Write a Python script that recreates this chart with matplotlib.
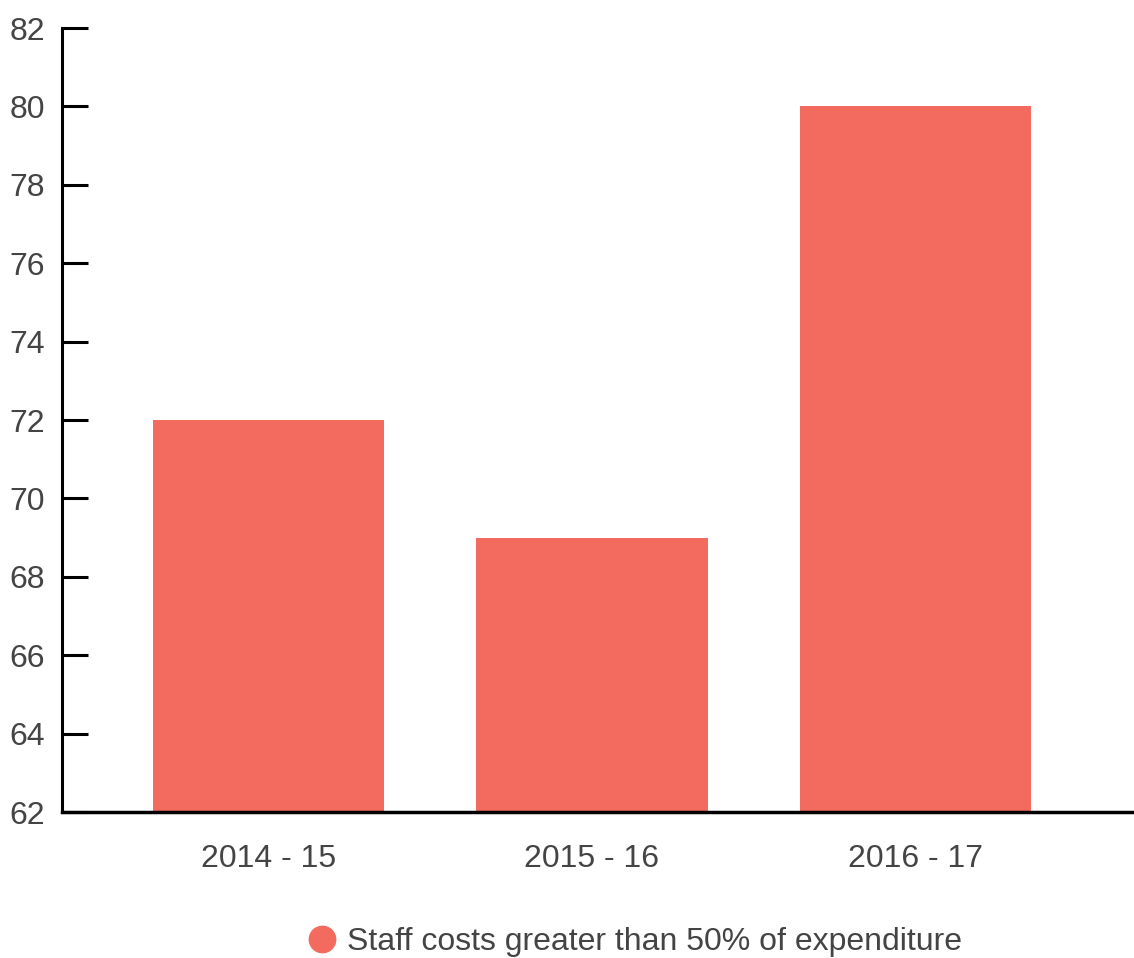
import matplotlib.pyplot as plt
from matplotlib.lines import Line2D

plt.rcParams['font.family'] = ['Liberation Sans', 'DejaVu Sans']

# data
periods = ["2014 - 15", "2015 - 16", "2016 - 17"]
values = [72, 69, 80]
y_ticks = [62, 64, 66, 68, 70, 72, 74, 76, 78, 80, 82]
series_name = "Staff costs greater than 50% of expenditure"

bar_color = "#F36B5E"
text_color = "#444444"

fig = plt.figure(figsize=(11.34, 9.58), dpi=100)
W, H = 1134, 958
ax = fig.add_axes([62 / W, (H - 812) / H, (1133 - 62) / W, (812 - 28) / H])

x = list(range(len(periods)))
ax.bar(x, [v - 62 for v in values], bottom=62, width=0.714, color=bar_color)

ax.set_ylim(62, 82)
ax.set_xlim(-0.638, 2.672)
ax.set_yticks(y_ticks)
ax.set_xticks(x)
ax.set_xticklabels(periods)

ax.tick_params(axis='y', direction='in', length=19, width=2.2, color='black',
               pad=12, labelsize=23, labelcolor=text_color)
ax.tick_params(axis='x', length=0, pad=23, labelsize=23, labelcolor=text_color)

for s in ['top', 'right']:
    ax.spines[s].set_visible(False)
ax.spines['left'].set_linewidth(2.2)
ax.spines['bottom'].set_linewidth(2.5)

handle = Line2D([], [], marker='o', linestyle='none', markersize=19,
                markerfacecolor=bar_color, markeredgecolor=bar_color)
fig.legend([handle], [series_name], loc='center',
           bbox_to_anchor=(634 / W, 1 - 942 / H), frameon=False,
           fontsize=23, labelcolor=text_color, handletextpad=0.3,
           handlelength=1.0)

fig.savefig("out.png", dpi=100)
